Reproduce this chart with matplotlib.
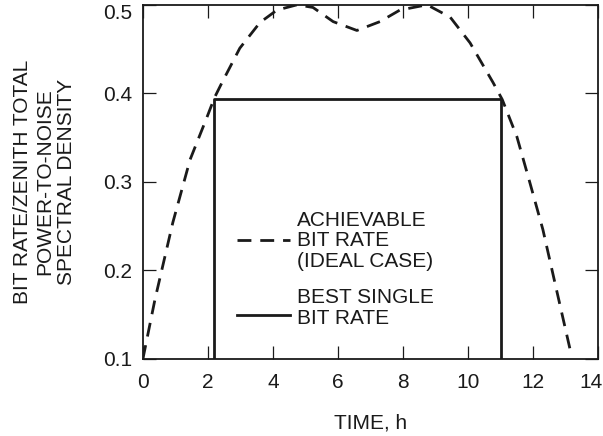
import matplotlib
matplotlib.use("Agg")
import matplotlib.pyplot as plt
from matplotlib.transforms import ScaledTranslation

plt.rcParams['font.family'] = ['Liberation Sans', 'DejaVu Sans']

# Achievable bit rate (ideal case) - dashed curve
time_ideal = [0, 0.37, 0.92, 1.45, 1.97, 2.2, 2.43, 2.98, 3.6, 4.12, 4.74, 5.23,
              5.85, 6.58, 7.29, 7.9, 8.74, 9.45, 10.06, 10.77, 11.05, 11.5,
              11.9, 12.3, 12.7, 13.14]
rate_ideal = [0.1, 0.167, 0.254, 0.325, 0.373, 0.395, 0.412, 0.451, 0.48, 0.494,
              0.5, 0.497, 0.481, 0.471, 0.481, 0.494, 0.5, 0.486, 0.457, 0.412,
              0.393, 0.351, 0.299, 0.246, 0.181, 0.11]

# Best single bit rate - solid rectangle
time_single = [2.2, 2.2, 11.0, 11.0]
rate_single = [0.1, 0.394, 0.394, 0.1]

x_ticks = [0, 2, 4, 6, 8, 10, 12, 14]
y_ticks = [0.1, 0.2, 0.3, 0.4, 0.5]
y_tick_labels = ['0.1', '0.2', '0.3', '0.4', '0.5']

FS = 15
INK = '#1a1a1a'

fig = plt.figure(figsize=(6.03, 4.36), dpi=100)
ax = fig.add_axes([0.237, 0.177, 0.755, 0.812])

ax.plot(time_ideal, rate_ideal, color=INK, lw=2.0, dashes=(5, 3.2))
ax.plot(time_single, rate_single, color=INK, lw=2.0)

ax.set_xlim(0, 14)
ax.set_ylim(0.1, 0.5)
ax.set_xticks(x_ticks)
ax.set_yticks(y_ticks)
ax.set_yticklabels(y_tick_labels)

ax.tick_params(direction='in', length=9.5, width=0.9, top=True, right=True,
               labelsize=FS, colors=INK)
ax.tick_params(axis='x', pad=10)
ax.tick_params(axis='y', pad=8)
for s in ax.spines.values():
    s.set_linewidth(1.3)
    s.set_color(INK)

# nudge edge labels inside the figure like the reference
ylabels = ax.get_yticklabels()
ylabels[-1].set_transform(ylabels[-1].get_transform() +
                          ScaledTranslation(0, -7 / 100, fig.dpi_scale_trans))
xlabels = ax.get_xticklabels()
xlabels[-1].set_transform(xlabels[-1].get_transform() +
                          ScaledTranslation(-7 / 100, 0, fig.dpi_scale_trans))

ax.set_xlabel('TIME, h', fontsize=FS, labelpad=16, color=INK)
ax.set_ylabel('BIT RATE/ZENITH TOTAL\nPOWER-TO-NOISE\nSPECTRAL DENSITY',
              fontsize=FS, labelpad=19, color=INK, linespacing=1.2)

# Legend drawn manually
ax.plot([0.207, 0.323], [0.336, 0.336], transform=ax.transAxes,
        color=INK, lw=2.0, dashes=(5, 3.2))
ax.plot([0.207, 0.323], [0.124, 0.124], transform=ax.transAxes,
        color=INK, lw=2.0)
ax.text(0.338, 0.333, 'ACHIEVABLE\nBIT RATE\n(IDEAL CASE)', transform=ax.transAxes,
        fontsize=FS, va='center', ha='left', linespacing=1.1, color=INK)
ax.text(0.338, 0.144, 'BEST SINGLE\nBIT RATE', transform=ax.transAxes,
        fontsize=FS, va='center', ha='left', linespacing=1.1, color=INK)

fig.savefig('out.png', dpi=100)
